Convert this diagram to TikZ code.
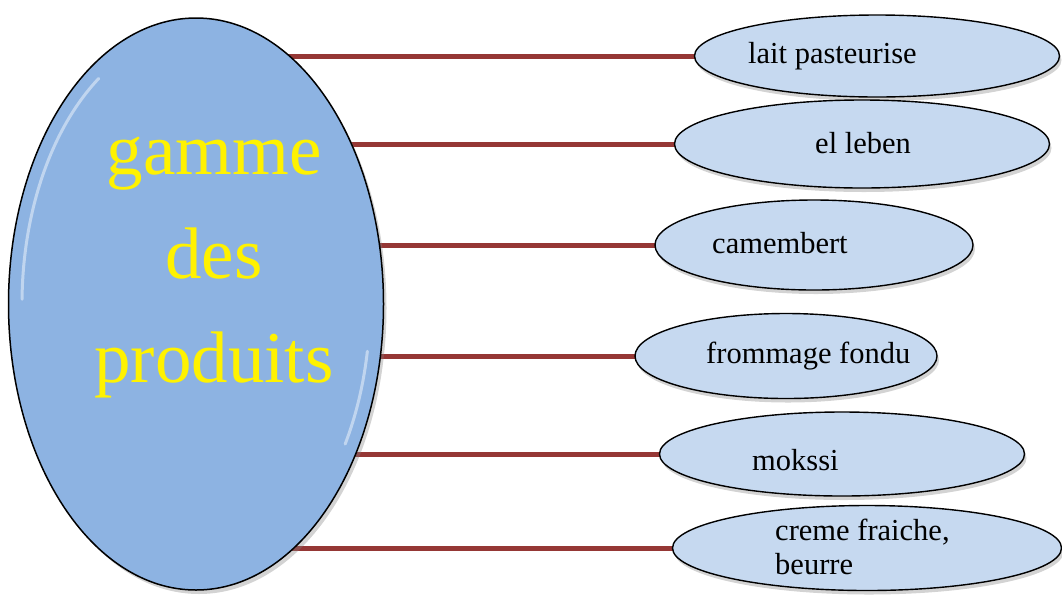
\documentclass[tikz,border=0pt]{standalone}
\usepackage{fontspec}
\setmainfont{Liberation Serif}
\usetikzlibrary{shapes.geometric,shadows,backgrounds}
\definecolor{prodfill}{HTML}{C6D9F0}
\definecolor{bigfill}{HTML}{8DB3E2}
\definecolor{linkred}{HTML}{953735}

\begin{document}
\begin{tikzpicture}[x=1pt,y=-1pt,
prod/.style={ellipse,draw=black,line width=1.4pt,fill=prodfill,inner sep=0pt,
  drop shadow={opacity=0.35,shadow xshift=2pt,shadow yshift=-4pt}},
lbl/.style={anchor=west,inner sep=0pt,font=\fontsize{30.5}{34}\selectfont,align=left},
link/.style={draw=linkred,line width=5pt},
hl/.style={draw=white,line width=3pt,opacity=0.45,line cap=round}]

        \useasboundingbox (0,0) rectangle (1062,598);

        \node [ellipse, draw=black, line width=1.5pt, fill=bigfill, minimum width=375pt,
          minimum height=572pt, drop shadow={opacity=0.35,shadow xshift=3pt,shadow yshift=-4pt}] (big) at (196,304) {};
        \draw [hl] (big.center) ++(181:174 and 272) arc [start angle=181, end angle=236, x radius=174, y radius=272];
        \draw [hl] (big.center) ++(10:174 and 272) arc [start angle=10, end angle=31, x radius=174, y radius=272];
        \node [font=\fontsize{73}{104}\selectfont, text=yellow, align=center, inner sep=0pt] (title) at (214,268) {gamme\\des\\produits};

        \node [prod, minimum width=365pt, minimum height=82pt] (p1) at (877,56) {};
        \node [prod, minimum width=375pt, minimum height=88pt] (p2) at (862,144) {};
        \node [prod, minimum width=318pt, minimum height=90pt] (p3) at (814,245) {};
        \node [prod, minimum width=302pt, minimum height=85pt] (p4) at (786,356) {};
        \node [prod, minimum width=365pt, minimum height=84pt] (p5) at (842,454) {};
        \node [prod, minimum width=389pt, minimum height=85pt] (p6) at (867,548) {};

        \node [lbl] (t1) at (748,56) {lait pasteurise};
        \node [lbl] (t2) at (815,143) {el leben};
        \node [lbl] (t3) at (712,243) {camembert};
        \node [lbl] (t4) at (706,356) {frommage fondu};
        \node [lbl] (t5) at (752,460) {mokssi};
        \node [lbl] (t6) at (775,547) {creme fraiche,\\beurre};

        \begin{scope}[on background layer]
        \foreach \p in {p1,p2,p3,p4,p5,p6}
          \draw [link] (big.center |- \p.center) -- (\p.center);
        \end{scope}
    \end{tikzpicture}
\end{document}
